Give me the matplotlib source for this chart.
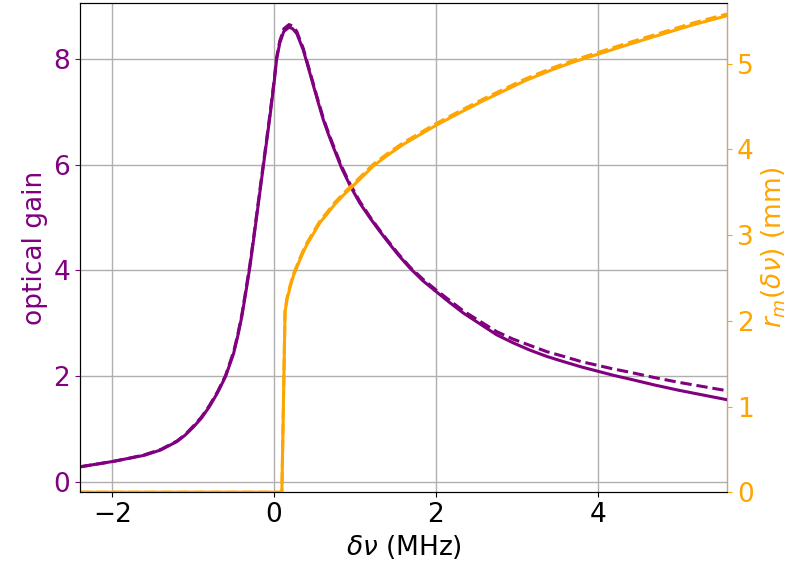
import matplotlib
matplotlib.use("Agg")
import matplotlib.pyplot as plt

# ---- data ----
gain_x = [-2.4, -2.2, -2.0, -1.8, -1.6, -1.4, -1.2, -1.1, -1.0, -0.9, -0.8, -0.7,
          -0.6, -0.5, -0.45, -0.4, -0.35, -0.3, -0.25, -0.2, -0.15, -0.1, -0.05,
          0.0, 0.03, 0.07, 0.12, 0.185, 0.23, 0.28, 0.36, 0.42, 0.49, 0.55, 0.61,
          0.67, 0.73, 0.83, 0.94, 1.06, 1.19, 1.3, 1.39, 1.53, 1.68, 1.84, 2.0,
          2.17, 2.34, 2.55, 2.75, 2.95, 3.16, 3.37, 3.58, 3.8, 4.0, 4.2, 4.4, 4.7,
          5.0, 5.3, 5.6]
gain_solid = [0.28, 0.33, 0.38, 0.44, 0.50, 0.60, 0.76, 0.88, 1.03, 1.20, 1.42, 1.68,
              1.99, 2.43, 2.75, 3.12, 3.58, 4.06, 4.62, 5.20, 5.78, 6.35, 6.93,
              7.55, 7.98, 8.30, 8.52, 8.60, 8.57, 8.48, 8.17, 7.85, 7.47, 7.15, 6.84,
              6.58, 6.34, 5.95, 5.60, 5.27, 4.98, 4.75, 4.57, 4.30, 4.04, 3.80, 3.60,
              3.39, 3.19, 2.98, 2.78, 2.63, 2.49, 2.37, 2.27, 2.17, 2.09, 2.01, 1.94,
              1.83, 1.73, 1.64, 1.55]
gain_dashed = [0.28, 0.33, 0.38, 0.44, 0.51, 0.61, 0.77, 0.89, 1.05, 1.22, 1.44, 1.70,
               2.01, 2.46, 2.78, 3.15, 3.62, 4.10, 4.66, 5.24, 5.82, 6.39, 6.97,
               7.59, 8.02, 8.34, 8.57, 8.65, 8.62, 8.52, 8.20, 7.88, 7.50, 7.18, 6.87,
               6.61, 6.37, 5.98, 5.63, 5.30, 5.00, 4.77, 4.59, 4.32, 4.06, 3.83, 3.63,
               3.43, 3.23, 3.03, 2.84, 2.70, 2.58, 2.46, 2.37, 2.27, 2.20, 2.13, 2.07,
               1.97, 1.88, 1.80, 1.72]

rm_x = [-2.4, 0.096, 0.135, 0.16, 0.20, 0.24, 0.28, 0.30, 0.36, 0.40, 0.45, 0.50,
        0.57, 0.65, 0.75, 0.85, 0.96, 1.1, 1.23, 1.4, 1.6, 1.8, 2.0, 2.3, 2.59,
        2.79, 3.1, 3.41, 3.7, 4.0, 4.4, 4.85, 5.2, 5.6]
rm_solid = [0.0, 0.0, 2.10, 2.25, 2.40, 2.53, 2.62, 2.67, 2.80, 2.88, 2.96, 3.04,
            3.15, 3.24, 3.36, 3.46, 3.56, 3.69, 3.81, 3.93, 4.06, 4.17, 4.28, 4.43,
            4.57, 4.66, 4.80, 4.92, 5.02, 5.11, 5.23, 5.36, 5.46, 5.56]
rm_dashed = [0.0, 0.0, 2.12, 2.27, 2.42, 2.55, 2.64, 2.69, 2.82, 2.90, 2.98, 3.06,
             3.17, 3.26, 3.38, 3.48, 3.58, 3.71, 3.83, 3.95, 4.08, 4.19, 4.30, 4.45,
             4.59, 4.68, 4.82, 4.94, 5.04, 5.13, 5.25, 5.38, 5.48, 5.58]

x_ticks = [-2, 0, 2, 4]
gain_ticks = [0, 2, 4, 6, 8]
rm_ticks = [0, 1, 2, 3, 4, 5]

PURPLE = "purple"
ORANGE = "orange"
FS = 19

fig = plt.figure(figsize=(7.92, 5.75), dpi=100)
ax = fig.add_axes([0.101, 0.144, 0.817, 0.851])

ax.plot(gain_x, gain_solid, color=PURPLE, lw=2.2)
ax.plot(gain_x, gain_dashed, color=PURPLE, lw=2.2, ls="--")
ax.set_xlim(-2.4, 5.6)
ax.set_ylim(-0.2, 9.06)
ax.set_xticks(x_ticks)
ax.set_yticks(gain_ticks)
ax.grid(True, color="#b0b0b0", lw=1.0)
ax.set_xlabel(r"$\delta\nu$ (MHz)", fontsize=FS)
ax.set_ylabel("optical gain", color=PURPLE, fontsize=FS)
ax.tick_params(axis="x", labelsize=FS)
ax.tick_params(axis="y", labelsize=FS, colors=PURPLE)

ax2 = ax.twinx()
ax2.plot(rm_x, rm_solid, color=ORANGE, lw=2.2)
ax2.plot(rm_x, rm_dashed, color=ORANGE, lw=2.2, ls="--")
ax2.set_ylim(0, 5.71)
ax2.set_yticks(rm_ticks)
ax2.set_ylabel(r"$r_m(\delta\nu)$ (mm)", color=ORANGE, fontsize=FS)
ax2.tick_params(axis="y", labelsize=FS, colors=ORANGE)
ax2.spines["right"].set_color(ORANGE)

fig.savefig("out.png", dpi=100)
